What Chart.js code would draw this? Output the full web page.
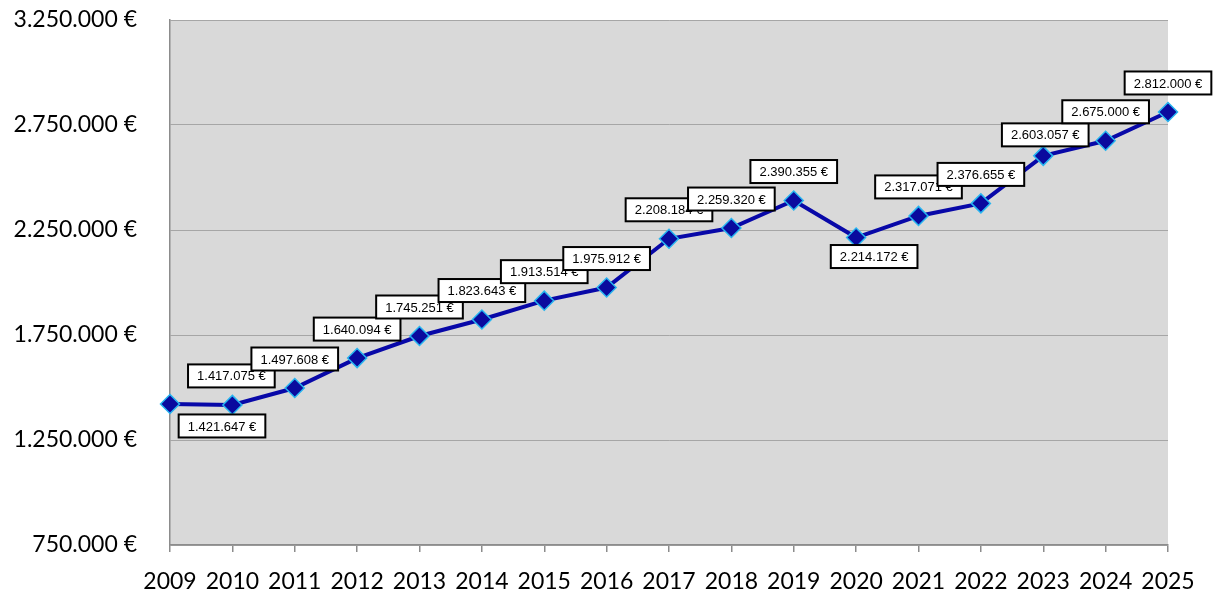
<!DOCTYPE html>
<html lang="de">
<head>
<meta charset="utf-8">
<title>Entwicklung</title>
<script src="https://cdn.jsdelivr.net/npm/chart.js@4/dist/chart.umd.min.js"></script>
<style>
  html, body { margin: 0; padding: 0; background: #fff; }
  #wrap { width: 1214px; height: 594px; }
</style>
</head>
<body>
<div id="wrap"><canvas id="chart" width="1214" height="594"></canvas></div>
<script>
// jahre und werte
const years = ['2009','2010','2011','2012','2013','2014','2015','2016','2017','2018','2019','2020','2021','2022','2023','2024','2025'];
const amounts = [1421647, 1417075, 1497608, 1640094, 1745251, 1823643, 1913514, 1975912, 2208184, 2259320, 2390355, 2214172, 2317071, 2376655, 2603057, 2675000, 2812000];
const yMin = 750000;
const yMax = 3250000;
const yStep = 500000;

// verschobene labels (index -> [dx, dy]), sonst oberhalb
const labelShift = { 0: [52, 22], 1: [-1, -29], 11: [18, 19], 14: [2, -21] };

function euro(v) {
  return String(Math.round(v)).replace(/\B(?=(\d{3})+(?!\d))/g, '.') + ' €';
}

// grauer hintergrund der zeichenflaeche
const plotBg = {
  id: 'plotBg',
  beforeDraw(chart) {
    const a = chart.chartArea, ctx = chart.ctx;
    ctx.save();
    ctx.fillStyle = '#d9d9d9';
    ctx.fillRect(a.left, a.top, a.right - a.left, a.bottom - a.top);
    ctx.restore();
  }
};

// datenbeschriftungen mit weissem kasten
const boxLabels = {
  id: 'boxLabels',
  afterDatasetsDraw(chart) {
    const ctx = chart.ctx;
    const pts = chart.getDatasetMeta(0).data;
    ctx.save();
    ctx.font = '13px "Liberation Sans", Arial, sans-serif';
    ctx.textAlign = 'center';
    ctx.textBaseline = 'middle';
    pts.forEach((p, i) => {
      const s = labelShift[i] || [0, -29];
      const cx = p.x + s[0], cy = p.y + s[1];
      const txt = euro(amounts[i]);
      const w = ctx.measureText(txt).width + 18, h = 23;
      ctx.fillStyle = '#fff';
      ctx.fillRect(cx - w / 2, cy - h / 2, w, h);
      ctx.lineWidth = 2;
      ctx.strokeStyle = '#000';
      ctx.strokeRect(cx - w / 2, cy - h / 2, w, h);
      ctx.fillStyle = '#000';
      ctx.fillText(txt, cx, cy + 1);
    });
    ctx.restore();
  }
};

new Chart(document.getElementById('chart'), {
  type: 'line',
  data: {
    labels: years,
    datasets: [{
      data: amounts,
      borderColor: '#0808a8',
      borderWidth: 4,
      backgroundColor: '#0a0a9e',
      pointStyle: 'rectRot',
      pointRadius: 9.5,
      pointBorderColor: '#27b5f0',
      pointBorderWidth: 1.5,
      tension: 0,
      clip: false
    }]
  },
  options: {
    responsive: false,
    animation: false,
    layout: { padding: { top: 20, right: 46, left: 0, bottom: 0 } },
    plugins: { legend: { display: false }, tooltip: { enabled: false } },
    scales: {
      x: {
        offset: false,
        grid: { drawOnChartArea: false, drawTicks: true, tickLength: 7, color: '#8c8c8c', lineWidth: 1.5 },
        border: { color: '#8c8c8c', width: 1.5 },
        ticks: { color: '#000', padding: 16, maxRotation: 0, autoSkip: false,
                 font: { family: 'Lato', size: 23 } },
        afterFit(s) { s.height = 49; }
      },
      y: {
        min: yMin,
        max: yMax,
        grid: { color: '#a6a6a6', lineWidth: 1, drawTicks: false },
        border: { color: '#8c8c8c', width: 1.5 },
        ticks: { stepSize: yStep, color: '#000', padding: 33,
                 font: { family: 'Lato', size: 23 },
                 callback: v => euro(v) },
        afterFit(s) { s.width = 170; s.paddingTop = 0; s.paddingBottom = 0; }
      }
    }
  },
  plugins: [plotBg, boxLabels]
});
</script>
</body>
</html>
